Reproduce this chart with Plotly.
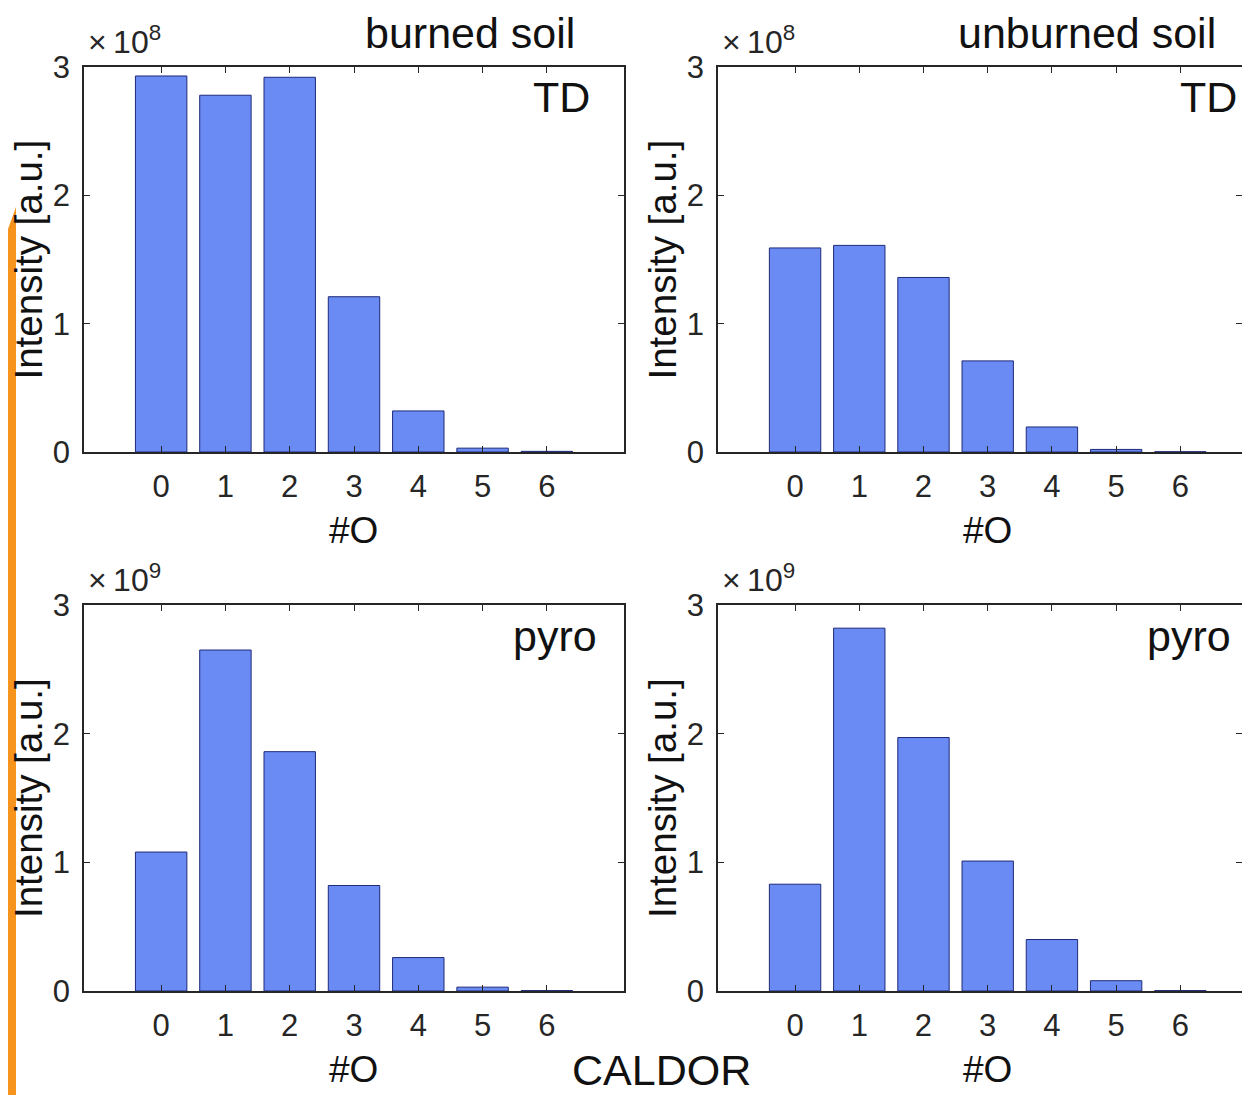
import plotly.graph_objects as go

# canvas (page body has an 8px margin, so the figure is sized to fit the window)
OFF = 8
W, H = 1234, 1087

categories = [0, 1, 2, 3, 4, 5, 6]
burned_td = [2.93, 2.78, 2.92, 1.21, 0.32, 0.03, 0.005]      # x1e8
unburned_td = [1.59, 1.61, 1.36, 0.71, 0.195, 0.02, 0.002]   # x1e8
burned_pyro = [1.08, 2.65, 1.86, 0.82, 0.26, 0.03, 0.003]    # x1e9
unburned_pyro = [0.83, 2.82, 1.97, 1.01, 0.40, 0.08, 0.003]  # x1e9
y_ticks = [0, 1, 2, 3]
col_titles = ["burned soil", "unburned soil"]
panel_labels = ["TD", "TD", "pyro", "pyro"]
exponents = ["8", "8", "9", "9"]
x_title = "#O"
y_title = "Intensity [a.u.]"
fig_label = "CALDOR"


def px(x):
    return (x - OFF) / W


def py(y):
    return 1 - (y - OFF) / H


BAR = "#6A8BF4"
EDGE = "#1E2A78"
AX = "#262626"
TXT = "#111111"
FONT = "Liberation Sans, Arial, sans-serif"

# panel pixel boxes (reference window coordinates): left, right, top, bottom, xmax
panels = [
    (84, 624, 67, 452, 7.2),
    (718, 1242, 67, 452, 6.96),
    (84, 624, 605, 991, 7.2),
    (718, 1242, 605, 991, 6.96),
]
label_pos = [(561, 97), (1208, 97), (555, 636), (1189, 636)]
data = [burned_td, unburned_td, burned_pyro, unburned_pyro]

fig = go.Figure()
annotations = []
for i, ((l, r, t, b, xmax), vals) in enumerate(zip(panels, data)):
    n = i + 1
    xa = "x" if n == 1 else f"x{n}"
    ya = "y" if n == 1 else f"y{n}"
    fig.add_trace(go.Bar(
        x=categories, y=vals, width=0.8, xaxis=xa, yaxis=ya,
        marker=dict(color=BAR, line=dict(color=EDGE, width=1)),
        showlegend=False, hoverinfo="x+y",
    ))
    axcommon = dict(
        showline=True, linecolor=AX, linewidth=1.5, mirror="ticks",
        ticks="inside", ticklen=6, tickcolor=AX, tickwidth=1,
        showgrid=False, zeroline=False, automargin=False,
        tickfont=dict(family=FONT, size=31, color=AX),
    )
    fig.update_layout(**{
        ("xaxis" if n == 1 else f"xaxis{n}"): dict(
            domain=[px(l), min(px(r), 1.0)], range=[-1.2, xmax], anchor=ya,
            tickvals=categories, ticklabelstandoff=6, **axcommon),
        ("yaxis" if n == 1 else f"yaxis{n}"): dict(
            domain=[py(b), py(t)], range=[0, 3], anchor=xa,
            tickvals=y_ticks, ticklabelstandoff=6, **axcommon),
    })
    lx, ly = label_pos[i]
    annotations.append(dict(
        x=px(lx), y=py(ly), xref="paper", yref="paper",
        text=panel_labels[i], showarrow=False, xanchor="center", yanchor="middle",
        font=dict(family=FONT, size=43, color=TXT)))
    annotations.append(dict(
        x=px(l + 2), y=py(t - 5), xref="paper", yref="paper",
        text="×\u200910<sup>" + exponents[i] + "</sup>", showarrow=False,
        xanchor="left", yanchor="bottom",
        font=dict(family=FONT, size=32, color=AX)))
    annotations.append(dict(
        x=px(l + 269), y=py(b + 78), xref="paper", yref="paper",
        text=x_title, showarrow=False, xanchor="center", yanchor="middle",
        font=dict(family=FONT, size=37, color=TXT)))
    annotations.append(dict(
        x=px(l - 56), y=py((t + b) / 2), xref="paper", yref="paper",
        text=y_title, showarrow=False, xanchor="center", yanchor="middle",
        textangle=-90, font=dict(family=FONT, size=38.5, color=TXT)))

for txt, cx, cy in [(col_titles[0], 470, 33), (col_titles[1], 1087, 33),
                    (fig_label, 661, 1070)]:
    annotations.append(dict(x=px(cx), y=py(cy), xref="paper", yref="paper",
                            text=txt, showarrow=False, borderpad=0,
                            xanchor="center", yanchor="middle",
                            font=dict(family=FONT, size=43, color=TXT)))

fig.update_layout(
    width=W, height=H,
    margin=dict(l=0, r=0, t=0, b=0, pad=0, autoexpand=False),
    paper_bgcolor="white", plot_bgcolor="white",
    annotations=annotations, bargap=0.2,
    shapes=[dict(type="path", xref="paper", yref="paper",
                 path=f"M 0 {py(229)} L {8 / W} {py(207)} L {8 / W} 0 L 0 0 Z",
                 fillcolor="#F7941D", line=dict(width=0), layer="above")],
)

fig.write_html("out.html")
